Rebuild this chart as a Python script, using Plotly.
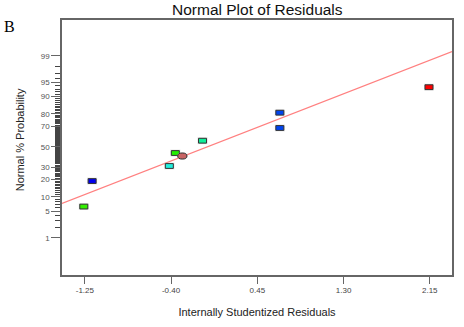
from statistics import NormalDist
import plotly.graph_objects as go

# Internally studentized residuals and their normal % probability
residuals = [-1.26, -1.178, -0.417, -0.358, -0.289, -0.090, 0.672, 0.672, 2.142]
probability_pct = [6.3, 19.0, 31.1, 43.6, 40.6, 56.1, 68.4, 80.8, 93.6]
point_colors = ["#33ee00", "#0000ee", "#22eedd", "#22ee00", "#c86464",
                "#11ee99", "#0044ee", "#0044ee", "#ff0000"]
point_shapes = ["rect", "rect", "rect", "rect", "circle",
                "rect", "rect", "rect", "rect"]

# Reference normal line (mean / sd of the fitted distribution)
fit_mean = -0.04
fit_sd = 0.99

x_tick_vals = [-1.25, -0.40, 0.45, 1.30, 2.15]
x_tick_text = ["-1.25", "-0.40", "0.45", "1.30", "2.15"]
y_major_pct = [1, 5, 10, 20, 30, 50, 70, 80, 90, 95, 99]
y_minor_pct = [p for p in range(1, 100) if p not in y_major_pct]

x_range = [-1.475, 2.369]
z_range = [-3.28, 3.24]

nd = NormalDist()
z = lambda p: nd.inv_cdf(p / 100.0)

fig = go.Figure()

# fitted line across the full x range
line_x = x_range
line_z = [(v - fit_mean) / fit_sd for v in line_x]
fig.add_trace(go.Scatter(x=line_x, y=line_z, mode="lines",
                         line=dict(color="#ff8080", width=1.2),
                         hoverinfo="skip", showlegend=False))

# invisible points for hover
fig.add_trace(go.Scatter(x=residuals, y=[z(p) for p in probability_pct],
                         mode="markers", marker=dict(size=8, opacity=0),
                         showlegend=False))

shapes = []
for xv, pv, col, kind in zip(residuals, probability_pct, point_colors, point_shapes):
    zv = z(pv)
    hw, hh = (4.6, 3.0) if kind == "circle" else (4.0, 2.4)
    shapes.append(dict(type="rect" if kind == "rect" else "circle",
                       xref="x", yref="y",
                       xsizemode="pixel", ysizemode="pixel",
                       xanchor=xv, yanchor=zv,
                       x0=-hw - 1, x1=hw + 1, y0=-hh - 1, y1=hh + 1,
                       fillcolor="rgba(190,190,190,0.45)", line=dict(width=0),
                       layer="above"))
    shapes.append(dict(type="rect" if kind == "rect" else "circle",
                       xref="x", yref="y",
                       xsizemode="pixel", ysizemode="pixel",
                       xanchor=xv, yanchor=zv,
                       x0=-hw, x1=hw, y0=-hh, y1=hh,
                       fillcolor=col, line=dict(color="#333333", width=1),
                       layer="above"))

axis_color = "#666666"
fig.update_layout(
    width=464, height=327,
    margin=dict(l=62, r=10, t=20, b=52),
    paper_bgcolor="white", plot_bgcolor="white",
    font=dict(family="Liberation Sans, Arial, sans-serif", color="#333333"),
    shapes=shapes,
    xaxis=dict(range=x_range, tickmode="array", tickvals=x_tick_vals,
               ticktext=x_tick_text, ticks="outside", ticklen=7,
               tickwidth=1, tickcolor=axis_color,
               showline=True, linecolor=axis_color, linewidth=1.5, mirror=True,
               showgrid=False, zeroline=False,
               tickfont=dict(size=8, color="#444444"),
               title=dict(text="Internally Studentized Residuals",
                          font=dict(size=11, color="#222222"), standoff=14)),
    yaxis=dict(range=z_range, tickmode="array",
               tickvals=[z(p) for p in y_major_pct],
               ticktext=[str(p) for p in y_major_pct],
               ticks="outside", ticklen=9, tickwidth=1, tickcolor=axis_color,
               minor=dict(tickmode="array", tickvals=[z(p) for p in y_minor_pct],
                          ticks="outside", ticklen=5, tickwidth=1,
                          tickcolor="#444444", showgrid=False),
               showline=True, linecolor=axis_color, linewidth=1.5, mirror=True,
               showgrid=False, zeroline=False,
               tickfont=dict(size=8, color="#555555")),
    annotations=[
        dict(text="Normal Plot of Residuals", xref="paper", yref="paper",
             x=0.5, y=1, yshift=10.5, xanchor="center", yanchor="middle",
             showarrow=False, font=dict(size=15.5, color="#111111")),
        dict(text="Normal % Probability", xref="paper", yref="paper",
             x=-0.107, y=(327 - 52 - 140) / 255.0, xanchor="center",
             yanchor="middle", textangle=-90, showarrow=False,
             font=dict(size=11, color="#222222")),
        dict(text="B", xref="paper", yref="paper", x=-0.155, y=1,
             xshift=0, yshift=-6, xanchor="left", yanchor="middle",
             showarrow=False,
             font=dict(size=16, family="Liberation Serif, Times New Roman, serif",
                       color="#000000")),
    ],
)

fig.write_html("out.html")
